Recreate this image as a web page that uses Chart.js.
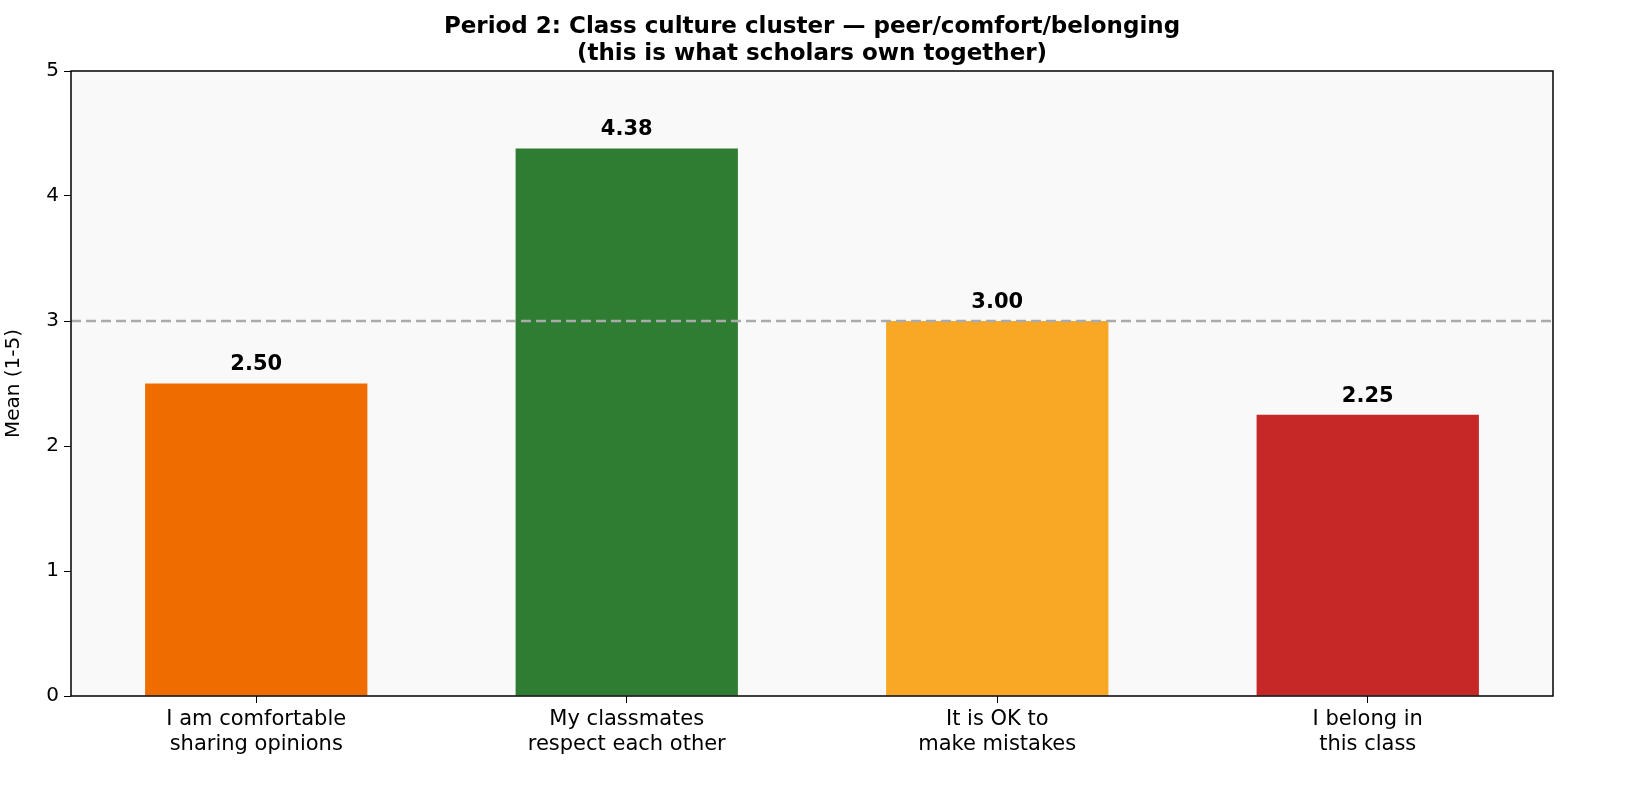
<!DOCTYPE html>
<html>
<head>
<meta charset="utf-8">
<script src="https://cdn.jsdelivr.net/npm/chart.js@4"></script>
<style>
  html, body { margin: 0; padding: 0; background: #fff; }
  #wrap { width: 1635px; height: 805px; position: relative; }
</style>
</head>
<body>
<div id="wrap"><canvas id="myChart"></canvas></div>
<script>
// dati del grafico
const categories = [
  ['I am comfortable', 'sharing opinions'],
  ['My classmates', 'respect each other'],
  ['It is OK to', 'make mistakes'],
  ['I belong in', 'this class']
];
const means = [2.50, 4.38, 3.00, 2.25];
const barColors = ['#EF6C00', '#2E7D32', '#F9A825', '#C62828'];
const refLine = 3;
const titleLines = ['Period 2: Class culture cluster \u2014 peer/comfort/belonging', '(this is what scholars own together)'];

const FONT = 'DejaVu Sans';

// sfondo, cornice, linea tratteggiata, etichette e titolo
const extras = {
  id: 'extras',
  beforeDatasetsDraw(chart) {
    const { ctx, chartArea: a } = chart;
    ctx.save();
    ctx.fillStyle = '#f9f9f9';
    ctx.fillRect(a.left, a.top, a.right - a.left, a.bottom - a.top);
    ctx.restore();
  },
  afterDatasetsDraw(chart) {
    const { ctx, chartArea: a, scales: { y } } = chart;
    ctx.save();
    const yy = y.getPixelForValue(refLine);
    ctx.strokeStyle = '#aaaaaa';
    ctx.lineWidth = 2.5;
    ctx.setLineDash([10, 5]);
    ctx.beginPath(); ctx.moveTo(a.left, yy); ctx.lineTo(a.right, yy); ctx.stroke();
    ctx.setLineDash([]);
    ctx.strokeStyle = '#000';
    ctx.lineWidth = 1.5;
    ctx.strokeRect(a.left, a.top, a.right - a.left, a.bottom - a.top);

    ctx.fillStyle = '#000';
    ctx.font = 'bold 21px "' + FONT + '"';
    ctx.textAlign = 'center';
    ctx.textBaseline = 'bottom';
    chart.getDatasetMeta(0).data.forEach((bar, i) => {
      ctx.fillText(means[i].toFixed(2), bar.x, bar.y - 8);
    });

    ctx.font = 'bold 23px "' + FONT + '"';
    ctx.textBaseline = 'alphabetic';
    const cx = (a.left + a.right) / 2;
    ctx.fillText(titleLines[0], cx, 33);
    ctx.fillText(titleLines[1], cx, 60);
    ctx.restore();
  }
};

const ctx = document.getElementById('myChart').getContext('2d');
new Chart(ctx, {
  type: 'bar',
  data: {
    labels: categories,
    datasets: [{
      data: means,
      backgroundColor: barColors,
      categoryPercentage: 1,
      barPercentage: 0.6
    }]
  },
  options: {
    responsive: true,
    maintainAspectRatio: false,
    animation: false,
    layout: { padding: { top: 71, right: 82, left: 0, bottom: 0 } },
    plugins: { legend: { display: false }, tooltip: { enabled: false } },
    scales: {
      x: {
        grid: { offset: false, drawOnChartArea: false, drawTicks: true, tickLength: 7, color: '#000' },
        border: { display: false },
        ticks: { color: '#000', font: { family: FONT, size: 21 }, padding: 4 },
        afterFit(axis) { axis.height = 109; }
      },
      y: {
        min: 0, max: 5,
        grid: { drawOnChartArea: false, drawTicks: true, tickLength: 7, color: '#000' },
        border: { display: false },
        ticks: { stepSize: 1, color: '#000', font: { family: FONT, size: 20 }, padding: 5 },
        title: { display: true, text: 'Mean (1-5)', color: '#000', font: { family: FONT, size: 20 }, padding: 2 },
        afterFit(axis) { axis.width = 71; }
      }
    }
  },
  plugins: [extras]
});
</script>
</body>
</html>
